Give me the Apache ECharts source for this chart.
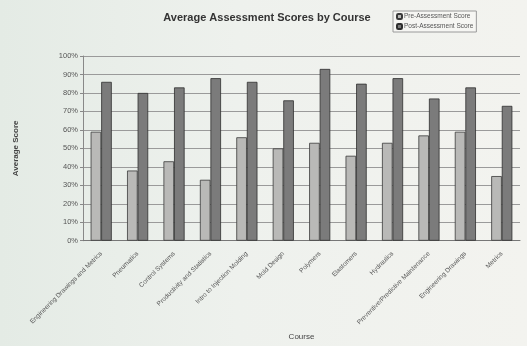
<!DOCTYPE html>
<html>
<head>
<meta charset="utf-8">
<script src="https://cdn.jsdelivr.net/npm/echarts@6/dist/echarts.min.js"></script>
<style>
  html, body { margin: 0; padding: 0; }
  body { background: linear-gradient(90deg, #e4ebe5 0%, #eef1ed 45%, #f3f3ef 100%); }
  #chart { width: 527px; height: 346px; }
</style>
</head>
<body>
<div id="chart"></div>
<script>
// Course names along the x axis
const courses = [
  'Engineering Drawings and Metrics', 'Pneumatics', 'Control Systems',
  'Productivity and Statistics', 'Intro to Injection Molding', 'Mold Design',
  'Polymers', 'Elastomers', 'Hydraulics', 'Preventive/Predictive Maintenance',
  'Engineering Drawings', 'Metrics'
];
// Average scores (percent)
const preScores  = [59, 38, 43, 33, 56, 50, 53, 46, 53, 57, 59, 35];
const postScores = [86, 80, 83, 88, 86, 76, 93, 85, 88, 77, 83, 73];

const chart = echarts.init(document.getElementById('chart'));
const font = 'Liberation Sans, Arial, sans-serif';

chart.setOption({
  animation: false,
  backgroundColor: 'transparent',
  title: {
    text: 'Average Assessment Scores by Course',
    left: 262, top: 7, textAlign: 'center',
    textStyle: { fontFamily: font, fontSize: 11, fontWeight: 'bold', color: '#333' }
  },
  legend: {
    orient: 'vertical', left: 393, top: 11,
    itemWidth: 5, itemHeight: 5, itemGap: 3,
    padding: [2, 3, 2, 3],
    borderColor: '#9a9a9a', borderWidth: 1,
    backgroundColor: '#f6f6f3',
    textStyle: { fontFamily: font, fontSize: 6.5, color: '#555', padding: [0, 0, 0, -3] },
    data: ['Pre-Assessment Score', 'Post-Assessment Score']
  },
  grid: { left: 83, right: 7, top: 56, bottom: 99, containLabel: false },
  xAxis: {
    type: 'category', data: courses,
    name: 'Course', nameLocation: 'middle', nameGap: 87,
    nameTextStyle: { fontFamily: font, fontSize: 8, color: '#444' },
    axisLine: { lineStyle: { color: '#777' } },
    axisTick: { show: false },
    axisLabel: { rotate: 45, interval: 0, fontFamily: font, fontSize: 6.5, color: '#555', margin: 12 }
  },
  yAxis: {
    type: 'value', min: 0, max: 100, interval: 10,
    name: 'Average Score', nameLocation: 'middle', nameGap: 63,
    nameTextStyle: { fontFamily: font, fontSize: 8, fontWeight: 'bold', color: '#444' },
    axisLine: { show: true, lineStyle: { color: '#888' } },
    axisTick: { show: true, length: 3, lineStyle: { color: '#888' } },
    splitLine: { lineStyle: { color: '#9a9a9a', width: 1 } },
    axisLabel: { formatter: '{value}%', fontFamily: font, fontSize: 7.5, color: '#555', margin: 5 }
  },
  series: [
    {
      name: 'Pre-Assessment Score', type: 'bar', data: preScores,
      barGap: '0%', barCategoryGap: '42%',
      itemStyle: { color: '#b9b9b7', borderColor: '#3a3a3a', borderWidth: 0.8 }
    },
    {
      name: 'Post-Assessment Score', type: 'bar', data: postScores,
      itemStyle: { color: '#7b7b7b', borderColor: '#2e2e2e', borderWidth: 0.8 }
    }
  ]
});
</script>
</body>
</html>
